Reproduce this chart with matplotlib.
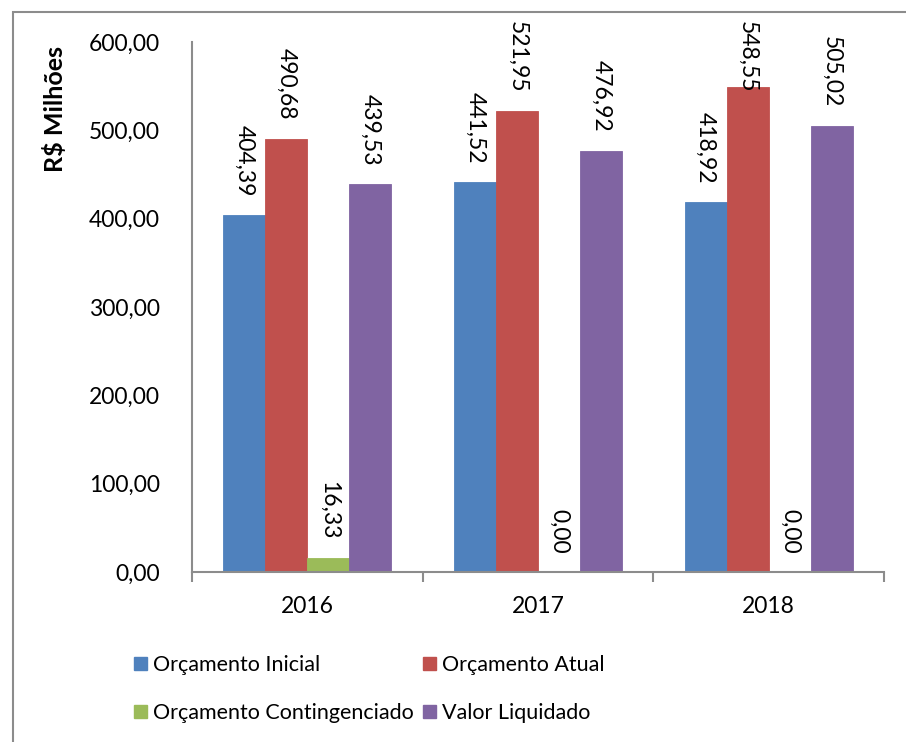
import numpy as np
import matplotlib
matplotlib.use("Agg")
import matplotlib.pyplot as plt
from matplotlib.patches import Rectangle, Patch

plt.rcParams['font.family'] = ['Lato', 'DejaVu Sans']

anos = ['2016', '2017', '2018']
series = ['Orçamento Inicial', 'Orçamento Atual',
          'Orçamento Contingenciado', 'Valor Liquidado']
inicial = [404.39, 441.52, 418.92]
atual = [490.68, 521.95, 548.55]
conting = [16.33, 0.00, 0.00]
liquidado = [439.53, 476.92, 505.02]
yticks = [0, 100, 200, 300, 400, 500, 600]

valores = [inicial, atual, conting, liquidado]
cores = ['#4F81BD', '#C0504D', '#9BBB59', '#8064A2']
fs = 16.5

def br(v):
    return f'{v:.2f}'.replace('.', ',')

fig = plt.figure(figsize=(9.06, 7.42), dpi=100)
ax = fig.add_axes([0.212, 0.229, 0.7637, 0.7145])

# moldura do gráfico (só esquerda e topo aparecem)
fig.patches.append(Rectangle((13/906, -0.1), 1.2, 1 - 12/742 + 0.1,
                             transform=fig.transFigure, fill=False,
                             edgecolor='#8c8c8c', linewidth=1.5))

x = np.arange(len(anos))
w = 0.182
for i, (vals, c) in enumerate(zip(valores, cores)):
    pos = x + (i - 1.5) * w
    ax.bar(pos, vals, width=w, color=c, edgecolor=c, linewidth=0.6, label=series[i])
    for xp, v in zip(pos, vals):
        ax.text(xp, min(v + 21, 543), br(v), rotation=270, ha='center',
                va='bottom', fontsize=fs)

ax.set_xlim(-0.5, 2.5)
ax.set_ylim(0, 600)
ax.set_yticks(yticks)
ax.set_yticklabels([br(v) for v in yticks], fontsize=fs)
ax.tick_params(axis='y', length=0, pad=23)

ax.set_xticks([-0.5, 0.5, 1.5, 2.5])
ax.set_xticklabels([])
ax.set_xticks(x, minor=True)
ax.set_xticklabels(anos, minor=True, fontsize=fs)
ax.tick_params(axis='x', which='major', length=7, width=1.5, color='#8c8c8c', direction='out')
ax.tick_params(axis='x', which='minor', length=0, pad=17)

for s in ['top', 'right']:
    ax.spines[s].set_visible(False)
for s in ['left', 'bottom']:
    ax.spines[s].set_color('#8c8c8c')
    ax.spines[s].set_linewidth(1.5)

fig.text(55/906, 1 - 109/742, 'R$ Milhões', rotation=90, ha='center',
         va='center', fontsize=18, fontweight='bold')

# ordem para preencher linha a linha com ncol=2
ordem = [0, 2, 1, 3]
handles = [Patch(facecolor=cores[k], edgecolor=cores[k]) for k in ordem]
fig.legend(handles, [series[k] for k in ordem], ncol=2, loc='upper left',
           bbox_to_anchor=(134/906, 1 - 655/742), frameon=False,
           borderpad=0, borderaxespad=0,
           fontsize=15.5, handlelength=0.6, handleheight=0.6,
           handletextpad=0.3, columnspacing=0.4, labelspacing=1.3)

fig.savefig('out.png', dpi=100)
